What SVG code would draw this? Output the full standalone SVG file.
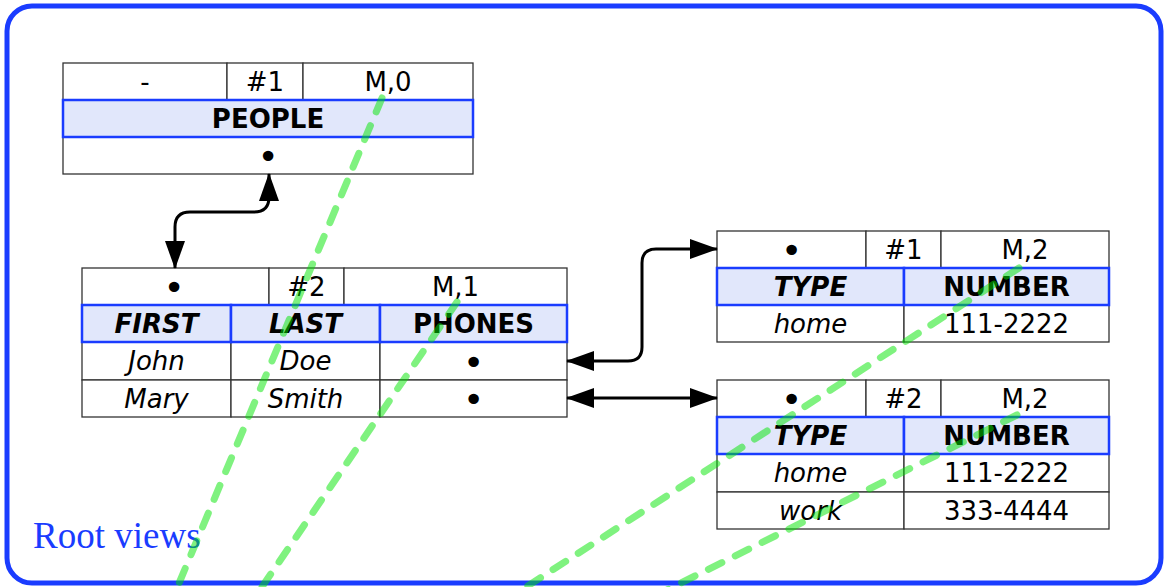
<svg xmlns="http://www.w3.org/2000/svg" width="1165" height="587" viewBox="0 0 1165 587">
  <style>
    .cell { fill: #ffffff; stroke: #333333; stroke-width: 1.3; }
    .head { fill: #e1e7fb; stroke: #1a3cff; stroke-width: 2.5; }
    text { font-family: "DejaVu Sans", Verdana, sans-serif; font-size: 26px; fill: #000000; text-anchor: middle; }
    .b { font-weight: bold; }
    .bi { font-weight: bold; font-style: italic; }
    .i { font-style: italic; }
    .dot { font-size: 36px; }
    .link { fill: none; stroke: #000000; stroke-width: 3; marker-start: url(#arr); marker-end: url(#arr); }
    .root { fill: none; stroke: #00e600; stroke-opacity: 0.5; stroke-width: 7; stroke-dasharray: 15 15; stroke-linecap: round; }
    .title { font-family: "Liberation Serif", "Times New Roman", serif; font-size: 37px; fill: #1a3cff; text-anchor: start; }
  </style>
  <defs>
    <marker id="arr" viewBox="0 0 28 20" refX="27" refY="10" markerWidth="28" markerHeight="20" markerUnits="userSpaceOnUse" orient="auto-start-reverse">
      <path d="M0,0 L28,10 L0,20 z" fill="#000000"/>
    </marker>
  </defs>

  <rect x="0" y="0" width="1165" height="587" fill="#ffffff"/>
  <rect x="7" y="6" width="1154" height="577" rx="25" ry="25" fill="none" stroke="#1a3cff" stroke-width="5"/>

  <g id="people">
    <rect class="cell" x="63" y="63" width="164" height="37"/>
    <rect class="cell" x="227" y="63" width="76" height="37"/>
    <rect class="cell" x="303" y="63" width="170" height="37"/>
    <rect class="cell" x="63" y="137" width="410" height="37"/>
    <rect class="head" x="63" y="100" width="410" height="37"/>
    <text x="145" y="91">-</text>
    <text x="265" y="91">#1</text>
    <text x="388" y="91">M,0</text>
    <text class="b" x="268" y="128">PEOPLE</text>
    <text class="dot" x="268" y="169">•</text>
  </g>

  <g id="names">
    <rect class="cell" x="82" y="268" width="187" height="37"/>
    <rect class="cell" x="269" y="268" width="75" height="37"/>
    <rect class="cell" x="344" y="268" width="223" height="37"/>
    <rect class="cell" x="82" y="342" width="149" height="38"/>
    <rect class="cell" x="231" y="342" width="149" height="38"/>
    <rect class="cell" x="380" y="342" width="187" height="38"/>
    <rect class="cell" x="82" y="380" width="149" height="37"/>
    <rect class="cell" x="231" y="380" width="149" height="37"/>
    <rect class="cell" x="380" y="380" width="187" height="37"/>
    <rect class="head" x="82" y="305" width="149" height="37"/>
    <rect class="head" x="231" y="305" width="149" height="37"/>
    <rect class="head" x="380" y="305" width="187" height="37"/>
    <text class="dot" x="174" y="300">•</text>
    <text x="306.5" y="296">#2</text>
    <text x="455.5" y="296">M,1</text>
    <text class="bi" x="156.5" y="333">FIRST</text>
    <text class="bi" x="305.5" y="333">LAST</text>
    <text class="b" x="473.5" y="333">PHONES</text>
    <text class="i" x="156.5" y="370">John</text>
    <text class="i" x="305.5" y="370">Doe</text>
    <text class="dot" x="473.5" y="374.5">•</text>
    <text class="i" x="156.5" y="408">Mary</text>
    <text class="i" x="305.5" y="408">Smith</text>
    <text class="dot" x="473.5" y="412">•</text>
  </g>

  <g id="phones1">
    <rect class="cell" x="717" y="231" width="149" height="37"/>
    <rect class="cell" x="866" y="231" width="75" height="37"/>
    <rect class="cell" x="941" y="231" width="168" height="37"/>
    <rect class="cell" x="717" y="305" width="187" height="37"/>
    <rect class="cell" x="904" y="305" width="205" height="37"/>
    <rect class="head" x="717" y="268" width="187" height="37"/>
    <rect class="head" x="904" y="268" width="205" height="37"/>
    <text class="dot" x="791.5" y="263">•</text>
    <text x="903.5" y="259">#1</text>
    <text x="1025" y="259">M,2</text>
    <text class="bi" x="810.5" y="296">TYPE</text>
    <text class="b" x="1006.5" y="296">NUMBER</text>
    <text class="i" x="810.5" y="333">home</text>
    <text x="1006.5" y="333">111-2222</text>
  </g>

  <g id="phones2">
    <rect class="cell" x="717" y="380" width="149" height="37"/>
    <rect class="cell" x="866" y="380" width="75" height="37"/>
    <rect class="cell" x="941" y="380" width="168" height="37"/>
    <rect class="cell" x="717" y="454" width="187" height="38"/>
    <rect class="cell" x="904" y="454" width="205" height="38"/>
    <rect class="cell" x="717" y="492" width="187" height="37"/>
    <rect class="cell" x="904" y="492" width="205" height="37"/>
    <rect class="head" x="717" y="417" width="187" height="37"/>
    <rect class="head" x="904" y="417" width="205" height="37"/>
    <text class="dot" x="791.5" y="412">•</text>
    <text x="903.5" y="408">#2</text>
    <text x="1025" y="408">M,2</text>
    <text class="bi" x="810.5" y="445">TYPE</text>
    <text class="b" x="1006.5" y="445">NUMBER</text>
    <text class="i" x="810.5" y="482">home</text>
    <text x="1006.5" y="482">111-2222</text>
    <text class="i" x="810.5" y="520">work</text>
    <text x="1006.5" y="520">333-4444</text>
  </g>

  <g id="connectors">
    <path class="link" d="M175,268 L175,227 Q175,212 190,212 L254,212 Q269,212 269,197 L269,174"/>
    <path class="link" d="M567,361 L628,361 Q642,361 642,347 L642,263 Q642,249 656,249 L717,249"/>
    <path class="link" d="M567,398 L717,398"/>
  </g>

  <text id="label" class="title" x="33" y="548">Root views</text>

  <g id="roots">
    <path class="root" d="M382,98 L172,600"/>
    <path class="root" d="M457,302 L253,600"/>
    <path class="root" d="M1019,268 L506,600"/>
    <path class="root" d="M1017,415 L647,600"/>
  </g>
</svg>
